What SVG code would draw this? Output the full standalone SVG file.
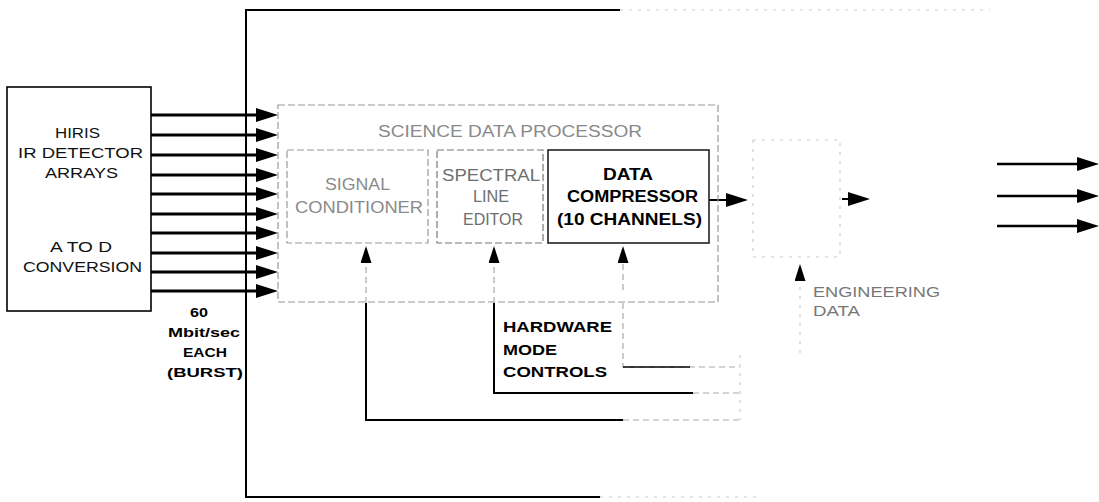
<svg xmlns="http://www.w3.org/2000/svg" width="1099" height="502" viewBox="0 0 1099 502">
<style>
text{font-family:"Liberation Sans",Arial,Helvetica,sans-serif;}
.t{font-size:15px;fill:#111;}
.b{font-size:15px;font-weight:bold;fill:#000;}
.s{font-size:13px;font-weight:bold;fill:#000;}
.g{font-size:16px;fill:#8a8a8a;}
.g2{font-size:16px;fill:#6e6e6e;}
.e{font-size:14px;fill:#777;}
.ln{fill:none;stroke:#000;stroke-width:2;}
.bus{fill:none;stroke:#000;stroke-width:3;}
.fd{fill:none;stroke:#aaa;stroke-width:1.2;stroke-dasharray:6 4;}
.ffd{fill:none;stroke:#ccc;stroke-width:1.2;stroke-dasharray:3 6;}
.dash{fill:none;stroke:#999;stroke-width:1.2;stroke-dasharray:7 3;}
</style>
<defs>
<marker id="ah" viewBox="0 0 22 14" refX="16" refY="7" markerWidth="22" markerHeight="14" markerUnits="userSpaceOnUse" orient="auto"><path d="M0,0 L22,7 L0,14 z" fill="#000"/></marker>
<marker id="ahs" viewBox="0 0 17 11" refX="12" refY="5.5" markerWidth="17" markerHeight="11" markerUnits="userSpaceOnUse" orient="auto"><path d="M0,0 L17,5.5 L0,11 z" fill="#000"/></marker>
</defs>

<g id="connectors">
  <path class="ln" d="M620,10 H246 V497 H600"/>
  <path class="ffd" d="M620,10 H990"/>
  <path class="ffd" d="M600,497 H760"/>
  <path class="bus" marker-end="url(#ah)" d="M151,115 H272"/>
  <path class="bus" marker-end="url(#ah)" d="M151,135 H272"/>
  <path class="bus" marker-end="url(#ah)" d="M151,155 H272"/>
  <path class="bus" marker-end="url(#ah)" d="M151,175 H272"/>
  <path class="bus" marker-end="url(#ah)" d="M151,194 H272"/>
  <path class="bus" marker-end="url(#ah)" d="M151,214 H272"/>
  <path class="bus" marker-end="url(#ah)" d="M151,233 H272"/>
  <path class="bus" marker-end="url(#ah)" d="M151,253 H272"/>
  <path class="bus" marker-end="url(#ah)" d="M151,272 H272"/>
  <path class="bus" marker-end="url(#ah)" d="M151,291 H272"/>
  <path class="ln" d="M623,420 H366 V303"/>
  <path class="fd" d="M623,420 H740"/>
  <path class="fd" marker-end="url(#ahs)" d="M366,303 V251"/>
  <path class="ln" d="M693,393 H494 V303"/>
  <path class="fd" d="M693,393 H740"/>
  <path class="fd" marker-end="url(#ahs)" d="M494,303 V251"/>
  <path class="fd" d="M623,303 V367 H740"/>
  <path class="ln" d="M623,367 H690" style="stroke-width:1.5"/>
  <path class="fd" marker-end="url(#ahs)" d="M623,290 V251"/>
  <path class="ffd" d="M740,355 V420"/>
  <path class="ln" marker-end="url(#ah)" d="M709,200 H742"/>
  <path class="ln" marker-end="url(#ah)" d="M842,199 H864"/>
  <path class="ln" marker-end="url(#ah)" d="M997,164 H1093" style="stroke-width:2.5"/>
  <path class="ln" marker-end="url(#ah)" d="M997,196 H1093" style="stroke-width:2.5"/>
  <path class="ln" marker-end="url(#ah)" d="M997,226 H1093" style="stroke-width:2.5"/>
  <path class="ffd" marker-end="url(#ahs)" d="M800,353 V269"/>
</g>

<g id="detector">
  <rect x="7" y="87" width="144" height="224" fill="none" stroke="#000" stroke-width="1.6"/>
  <text class="t" x="55" y="138" textLength="45" lengthAdjust="spacingAndGlyphs">HIRIS</text>
  <text class="t" x="18" y="158" textLength="125" lengthAdjust="spacingAndGlyphs">IR DETECTOR</text>
  <text class="t" x="45" y="178" textLength="73" lengthAdjust="spacingAndGlyphs">ARRAYS</text>
  <text class="t" x="50" y="252" textLength="62" lengthAdjust="spacingAndGlyphs">A TO D</text>
  <text class="t" x="23" y="272" textLength="119" lengthAdjust="spacingAndGlyphs">CONVERSION</text>
</g>

<g id="rate-label">
  <text class="s" x="190" y="317" textLength="18" lengthAdjust="spacingAndGlyphs">60</text>
  <text class="s" x="168" y="337" textLength="72" lengthAdjust="spacingAndGlyphs">Mbit/sec</text>
  <text class="s" x="183" y="357" textLength="44" lengthAdjust="spacingAndGlyphs">EACH</text>
  <text class="s" x="167" y="377" textLength="76" lengthAdjust="spacingAndGlyphs">(BURST)</text>
</g>

<g id="science-data-processor">
  <rect x="278" y="105" width="440" height="197" class="dash"/>
  <text class="g" x="378" y="137" textLength="264" lengthAdjust="spacingAndGlyphs">SCIENCE DATA PROCESSOR</text>
</g>

<g id="signal-conditioner">
  <rect x="287" y="150" width="141" height="93" class="dash"/>
  <text class="g" x="325" y="190" textLength="65" lengthAdjust="spacingAndGlyphs">SIGNAL</text>
  <text class="g" x="295" y="213" textLength="128" lengthAdjust="spacingAndGlyphs">CONDITIONER</text>
</g>

<g id="spectral-line-editor">
  <rect x="437" y="150" width="106" height="93" fill="none" stroke="#777" stroke-width="1.2" stroke-dasharray="7 3"/>
  <text class="g2" x="442" y="181" textLength="98" lengthAdjust="spacingAndGlyphs">SPECTRAL</text>
  <text class="g2" x="473" y="202" textLength="36" lengthAdjust="spacingAndGlyphs">LINE</text>
  <text class="g2" x="463" y="225" textLength="60" lengthAdjust="spacingAndGlyphs">EDITOR</text>
</g>

<g id="data-compressor">
  <rect x="548" y="150" width="161" height="93" fill="none" stroke="#222" stroke-width="1.6"/>
  <text class="b" x="603" y="180" textLength="50" lengthAdjust="spacingAndGlyphs" style="font-size:16px">DATA</text>
  <text class="b" x="567" y="202" textLength="131" lengthAdjust="spacingAndGlyphs" style="font-size:16px">COMPRESSOR</text>
  <text class="b" x="557" y="225" textLength="145" lengthAdjust="spacingAndGlyphs" style="font-size:16px">(10 CHANNELS)</text>
</g>

<g id="faded-unit">
  <rect x="753" y="140" width="87" height="117" class="ffd"/>
</g>

<g id="hardware-mode-controls">
  <text class="b" x="503" y="332" textLength="109" lengthAdjust="spacingAndGlyphs">HARDWARE</text>
  <text class="b" x="503" y="355" textLength="54" lengthAdjust="spacingAndGlyphs">MODE</text>
  <text class="b" x="503" y="377" textLength="104" lengthAdjust="spacingAndGlyphs">CONTROLS</text>
</g>

<g id="engineering-data">
  <text class="e" x="813" y="297" textLength="127" lengthAdjust="spacingAndGlyphs">ENGINEERING</text>
  <text class="e" x="813" y="316" textLength="47" lengthAdjust="spacingAndGlyphs">DATA</text>
</g>
</svg>
